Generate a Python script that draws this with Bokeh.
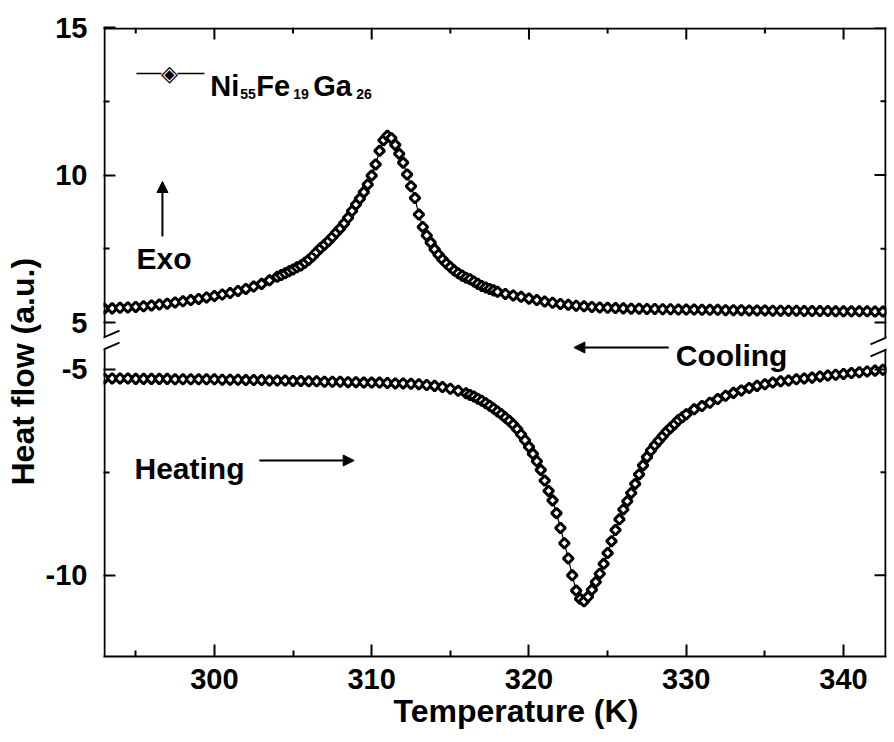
import math
from bokeh.plotting import figure
from bokeh.models import (Range1d, LinearAxis, FixedTicker, Label, Arrow,
                          NormalHead, Title)
from bokeh.embed import file_html
from bokeh.resources import INLINE

# ---------------- data ----------------
COOL_T = [293.0, 293.5, 294.0, 294.5, 295.0, 295.5, 296.0, 296.5, 297.0, 297.5,
          298.0, 298.5, 299.0, 299.5, 300.0, 300.5, 301.0, 301.5, 302.0, 302.5,
          303.0, 303.5, 304.0,
          304.25, 304.5, 304.75, 305.0, 305.25, 305.5, 305.75, 306.0, 306.25, 306.5,
          306.75, 307.0, 307.25, 307.5, 307.75, 308.0, 308.25, 308.5, 308.75, 309.0,
          309.25, 309.5, 309.75, 310.0, 310.25, 310.5, 310.75, 311.0, 311.25, 311.5,
          311.75, 312.0, 312.25, 312.5, 312.75, 313.0, 313.25, 313.5, 313.75, 314.0,
          314.25, 314.5, 314.75, 315.0, 315.25, 315.5, 315.75, 316.0, 316.25, 316.5,
          316.75, 317.0, 317.25, 317.5, 317.75, 318.0,
          318.5, 319.0, 319.5, 320.0, 320.5, 321.0, 321.5, 322.0, 322.5, 323.0,
          323.5, 324.0, 324.5, 325.0, 325.5, 326.0, 326.5, 327.0, 327.5, 328.0,
          328.5, 329.0, 329.5, 330.0, 330.5, 331.0, 331.5, 332.0, 332.5, 333.0,
          333.5, 334.0, 334.5, 335.0, 335.5, 336.0, 336.5, 337.0, 337.5, 338.0,
          338.5, 339.0, 339.5, 340.0, 340.5, 341.0, 341.5, 342.0, 342.5]
COOL_HF = [5.47, 5.48, 5.50, 5.51, 5.53, 5.55, 5.58, 5.61, 5.64, 5.68,
           5.72, 5.76, 5.80, 5.85, 5.90, 5.95, 6.00, 6.07, 6.14, 6.22,
           6.31, 6.43, 6.55,
           6.61, 6.67, 6.74, 6.80, 6.87, 6.93, 7.03, 7.13, 7.25, 7.39,
           7.52, 7.64, 7.76, 7.90, 8.05, 8.19, 8.36, 8.55, 8.78, 9.00,
           9.20, 9.42, 9.68, 9.98, 10.36, 10.82, 11.18, 11.33, 11.25, 11.02,
           10.72, 10.42, 10.02, 9.62, 9.22, 8.66, 8.24, 7.95, 7.71, 7.48,
           7.30, 7.14, 7.00, 6.88, 6.76, 6.67, 6.59, 6.52, 6.47, 6.39,
           6.31, 6.24, 6.19, 6.14, 6.09, 6.04,
           5.97, 5.92, 5.87, 5.81, 5.76, 5.71, 5.67, 5.63, 5.60, 5.57,
           5.55, 5.53, 5.51, 5.50, 5.49, 5.48, 5.47, 5.47, 5.46, 5.46,
           5.45, 5.45, 5.44, 5.44, 5.44, 5.43, 5.43, 5.43, 5.42, 5.42,
           5.42, 5.41, 5.41, 5.41, 5.40, 5.40, 5.40, 5.40, 5.39, 5.39,
           5.39, 5.39, 5.38, 5.38, 5.38, 5.38, 5.38, 5.37, 5.37]

HEAT_T = [293.0, 293.5, 294.0, 294.5, 295.0, 295.5, 296.0, 296.5, 297.0, 297.5,
          298.0, 298.5, 299.0, 299.5, 300.0, 300.5, 301.0, 301.5, 302.0, 302.5,
          303.0, 303.5, 304.0, 304.5, 305.0, 305.5, 306.0, 306.5, 307.0, 307.5,
          308.0, 308.5, 309.0, 309.5, 310.0, 310.5, 311.0, 311.5, 312.0, 312.5,
          313.0, 313.5, 314.0, 314.5, 315.0, 315.5, 316.0,
          316.25, 316.5, 316.75, 317.0, 317.25, 317.5, 317.75, 318.0, 318.25, 318.5,
          318.75, 319.0, 319.25, 319.5, 319.75, 320.0, 320.25, 320.5, 320.75, 321.0,
          321.25, 321.5, 321.75, 322.0, 322.25, 322.5, 322.75, 323.0, 323.25, 323.5,
          323.75, 324.0, 324.25, 324.5, 324.75, 325.0, 325.25, 325.5, 325.75, 326.0,
          326.25, 326.5, 326.75, 327.0, 327.25, 327.5, 327.75, 328.0, 328.25, 328.5,
          328.75, 329.0, 329.25, 329.5, 329.75, 330.0,
          330.5, 331.0, 331.5, 332.0, 332.5, 333.0, 333.5, 334.0, 334.5, 335.0,
          335.5, 336.0, 336.5, 337.0, 337.5, 338.0, 338.5, 339.0, 339.5, 340.0,
          340.5, 341.0, 341.5, 342.0, 342.5]
HEAT_HF = [-5.22, -5.22, -5.22, -5.22, -5.23, -5.23, -5.23, -5.23, -5.23, -5.24,
           -5.24, -5.24, -5.24, -5.24, -5.24, -5.25, -5.25, -5.25, -5.26, -5.26,
           -5.26, -5.27, -5.27, -5.27, -5.28, -5.28, -5.29, -5.29, -5.30, -5.30,
           -5.30, -5.31, -5.31, -5.32, -5.32, -5.32, -5.33, -5.34, -5.34, -5.35,
           -5.36, -5.38, -5.40, -5.43, -5.47, -5.52, -5.58,
           -5.62, -5.66, -5.71, -5.76, -5.82, -5.88, -5.95, -6.02, -6.09, -6.17,
           -6.25, -6.34, -6.45, -6.58, -6.72, -6.88, -7.05, -7.23, -7.44, -7.70,
           -7.95, -8.18, -8.49, -8.85, -9.22, -9.59, -10.00, -10.37, -10.57, -10.63,
           -10.52, -10.35, -10.16, -9.96, -9.72, -9.46, -9.17, -8.90, -8.64, -8.40,
           -8.20, -8.00, -7.78, -7.55, -7.33, -7.13, -6.97, -6.84, -6.73, -6.62,
           -6.51, -6.42, -6.33, -6.23, -6.16, -6.09,
           -5.97, -5.89, -5.81, -5.72, -5.64, -5.57, -5.51, -5.45, -5.40, -5.36,
           -5.32, -5.29, -5.27, -5.24, -5.22, -5.20, -5.17, -5.15, -5.13, -5.11,
           -5.09, -5.07, -5.05, -5.03, -5.01]

X_TICKS = [300, 310, 320, 330, 340]
X_MINOR = [295, 305, 315, 325, 335]
Y_TICKS_TOP = [5, 10, 15]
Y_MINOR_TOP = [7.5, 12.5]
Y_TICKS_BOT = [-5, -10]
Y_MINOR_BOT = [-7.5]

X_LABEL = "Temperature (K)"
Y_LABEL = "Heat flow (a.u.)"
LEGEND_PARTS = [("Ni", False), ("55", True), ("Fe", False), ("19", True), ("Ga", False), ("26", True)]

assert len(COOL_T) == len(COOL_HF)
assert len(HEAT_T) == len(HEAT_HF)

# ---------------- layout ----------------
FONT = "Liberation Sans"
W, H = 892, 740
BL, BR, BT, BB = 102, 6, 27, 84
FL, FR, FT, FB = BL, W - BR, BT, H - BB      # frame edges in canvas pixels

X0, X1 = 292.95, 342.73
Y0, Y1 = -6.32, 15.0        # upper (cooling) scale
B0, B1 = -11.97, 3.30       # lower (heating) scale


def gx(px):
    return X0 + (px - FL) / (FR - FL) * (X1 - X0)


def gy(py):
    return Y0 + (FB - py) / (FB - FT) * (Y1 - Y0)


def b2m(v):
    return round(Y0 + (v - B0) / (B1 - B0) * (Y1 - Y0), 6)


p = figure(width=W, height=H, x_range=Range1d(X0, X1), y_range=Range1d(Y0, Y1),
           x_axis_type=None, y_axis_type=None, output_backend="svg",
           toolbar_location=None, min_border_left=BL, min_border_right=BR,
           min_border_top=BT, min_border_bottom=BB)
p.extra_y_ranges = {"bot": Range1d(B0, B1)}
p.outline_line_color = None
p.background_fill_color = "white"
p.border_fill_color = "white"

ax_style = dict(axis_line_width=2, axis_line_color="black",
                major_tick_in=12, major_tick_out=0, minor_tick_in=6, minor_tick_out=0,
                major_tick_line_width=2, minor_tick_line_width=2,
                major_tick_line_color="black", minor_tick_line_color="black",
                major_label_text_font=FONT, major_label_text_font_style="bold",
                major_label_text_font_size="29px", major_label_text_color="black")

xt = FixedTicker(ticks=X_TICKS, minor_ticks=X_MINOR)
below = LinearAxis(ticker=xt, major_label_standoff=12, **ax_style)
p.add_layout(below, "below")

y_major = Y_TICKS_TOP + [b2m(v) for v in Y_TICKS_BOT]
y_minor = Y_MINOR_TOP + [b2m(v) for v in Y_MINOR_BOT]
overrides = {t: str(t) for t in Y_TICKS_TOP}
overrides.update({b2m(v): str(v) for v in Y_TICKS_BOT})
yt = FixedTicker(ticks=y_major, minor_ticks=y_minor)
sl = dict(ax_style)
sl["axis_line_color"] = None
left = LinearAxis(ticker=yt, major_label_standoff=16, major_label_overrides=overrides, **sl)
p.add_layout(left, "left")

# axis titles
p.add_layout(Title(text=Y_LABEL, align="left", offset=171, standoff=4,
                   text_font=FONT, text_font_style="bold", text_font_size="32px",
                   text_color="black"), "left")
p.add_layout(Title(text=X_LABEL, align="left", offset=290, standoff=-2,
                   text_font=FONT, text_font_style="bold", text_font_size="32px",
                   text_color="black"), "below")


def seg(x1, y1, x2, y2, lw=2):
    p.add_layout(Arrow(x_start=x1, y_start=y1, x_end=x2, y_end=y2, start=None, end=None,
                       line_width=lw, line_color="black"))


# top frame line with ticks, right frame line with ticks
seg(X0, gy(FT + 1), X1, gy(FT + 1))
for t in X_TICKS:
    seg(t, Y1, t, gy(FT + 12))
for t in X_MINOR:
    seg(t, Y1, t, gy(FT + 6))
for v in y_major:
    seg(X1, v, gx(FR - 12), v)
for v in y_minor:
    seg(X1, v, gx(FR - 6), v)

# broken vertical frame lines and the break marks
BRK_TOP, BRK_BOT = 337, 349
for xv in (gx(FL + 1), gx(FR - 1)):
    seg(xv, Y1, xv, gy(BRK_TOP))
    seg(xv, gy(BRK_BOT), xv, Y0)
slope = 13.0 / 30.0
for (a, b, xc) in ((FL - 14, FL + 16, FL), (FR - 16, FR + 8, FR)):
    for yc in (BRK_TOP, BRK_BOT):
        seg(gx(a), gy(yc + (xc - a) * slope), gx(b), gy(yc - (b - xc) * slope))

# ---------------- data glyphs ----------------
mk = dict(marker="square", size=7, angle=math.pi / 4, fill_color="white",
          line_color="black", line_width=3)
p.line(COOL_T, COOL_HF, line_color="black", line_width=1.2)
p.scatter(COOL_T, COOL_HF, **mk)
p.line(HEAT_T, HEAT_HF, y_range_name="bot", line_color="black", line_width=1.2)
p.scatter(HEAT_T, HEAT_HF, y_range_name="bot", **mk)

# legend: line - symbol - line, then the formula with subscripts
seg(gx(135), gy(73), gx(160), gy(73), lw=1.5)
seg(gx(176), gy(73), gx(203), gy(73), lw=1.5)
p.add_layout(Label(x=gx(168), y=gy(73), text="\u25c8", text_font="DejaVu Sans",
                   text_font_size="22px", text_align="center", text_baseline="middle",
                   text_color="black"))
leg_x = [209, 239, 255, 292, 312, 355]
for (txt, sub), lx in zip(LEGEND_PARTS, leg_x):
    p.add_layout(Label(x=gx(lx), y=gy(93 if sub else 85), text=txt,
                       text_font=FONT, text_font_style="bold",
                       text_font_size="14px" if sub else "29px",
                       text_align="left", text_baseline="alphabetic", text_color="black"))


def ann(text, px, py, size="30px"):
    p.add_layout(Label(x=gx(px), y=gy(py), text=text, text_font=FONT, text_font_style="bold",
                       text_font_size=size, text_align="left", text_baseline="alphabetic",
                       text_color="black"))


ann("Exo", 135, 258)
ann("Heating", 133, 468)
ann("Cooling", 675, 355)


def arrow(x1, y1, x2, y2):
    p.add_layout(Arrow(x_start=gx(x1), y_start=gy(y1), x_end=gx(x2), y_end=gy(y2),
                       start=None, end=NormalHead(size=11, fill_color="black", line_color="black"),
                       line_width=2, line_color="black"))


arrow(161, 236, 161, 181)
arrow(258, 460, 353, 460)
arrow(668, 347, 573, 347)

open("out.html", "w").write(file_html(p, INLINE))
